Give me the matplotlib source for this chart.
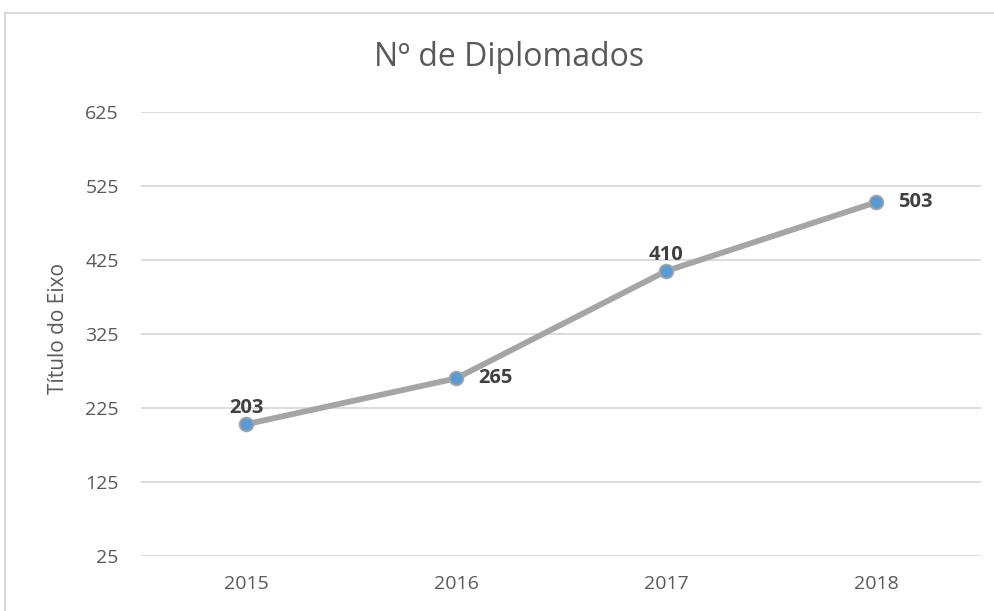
import matplotlib
matplotlib.use("Agg")
import matplotlib.pyplot as plt
from matplotlib.patches import Rectangle

# data
anos = ["2015", "2016", "2017", "2018"]
diplomados = [203, 265, 410, 503]
label_pos = ["above", "right", "above", "right"]
yticks = [25, 125, 225, 325, 425, 525, 625]

plt.rcParams['font.family'] = ['Open Sans', 'DejaVu Sans']

fig = plt.figure(figsize=(9.95, 6.11), dpi=100)

# chart area border (cropped at right/bottom in the original)
fig.patches.append(Rectangle((5/995, -0.05), 1.0, 1 - 13/611 + 0.05,
                             transform=fig.transFigure, fill=False,
                             edgecolor="#d9d9d9", linewidth=1.5))

ax = fig.add_axes([141/995, 1 - 556/611, 840/995, 444/611])
x = list(range(len(anos)))
ax.plot(x, diplomados, color="#a5a5a5", linewidth=4.2, zorder=3,
        marker="o", markersize=10, markerfacecolor="#5b9bd5",
        markeredgecolor="#a5a5a5", markeredgewidth=1.2)

for xi, v, pos in zip(x, diplomados, label_pos):
    if pos == "above":
        ax.annotate(str(v), (xi, v), xytext=(0, 8), textcoords="offset points",
                    ha="center", va="baseline", fontsize=14.5, fontweight="bold",
                    color="#404040")
    else:
        ax.annotate(str(v), (xi, v), xytext=(16, 0), textcoords="offset points",
                    ha="left", va="center", fontsize=14.5, fontweight="bold",
                    color="#404040")

ax.set_xlim(-0.5, len(anos) - 0.5)
ax.set_ylim(25, 625)
ax.set_xticks(x)
ax.set_xticklabels(anos)
ax.set_yticks(yticks)
ax.tick_params(length=0, labelsize=14, colors="#595959")
ax.tick_params(axis="y", pad=16)
ax.tick_params(axis="x", pad=14)
ax.grid(axis="y", color="#d9d9d9", linewidth=1.3)
ax.set_axisbelow(True)
for s in ax.spines.values():
    s.set_visible(False)

ax.set_ylabel("Título do Eixo", fontsize=15, color="#595959")
ax.yaxis.set_label_coords(-72/840, 0.513)
fig.text(509/995, 1 - 58/611, "Nº de Diplomados", ha="center", va="center",
         fontsize=23, color="#595959")

fig.savefig("out.png", dpi=100)
